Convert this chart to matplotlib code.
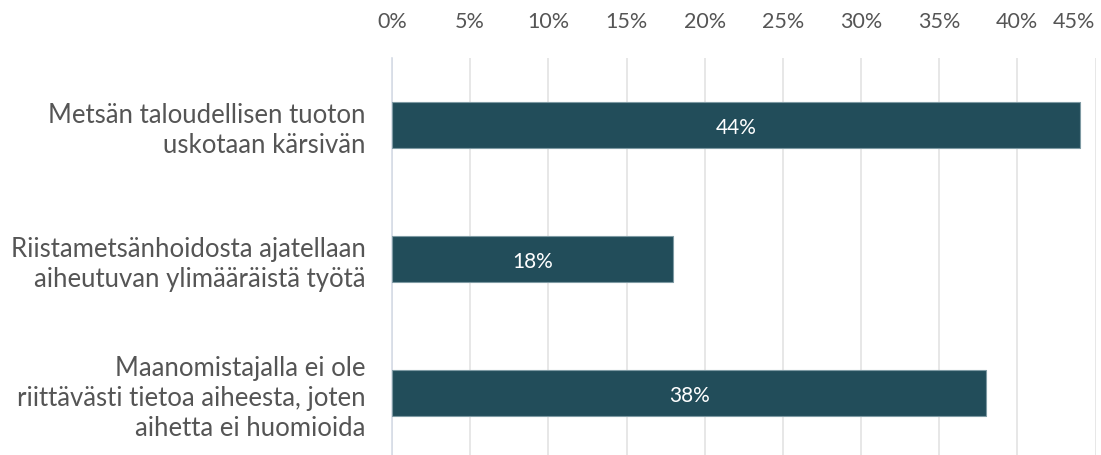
import matplotlib.pyplot as plt

# Data
categories = [
    'Metsän taloudellisen tuoton\nuskotaan kärsivän',
    'Riistametsänhoidosta ajatellaan\naiheutuvan ylimääräistä työtä',
    'Maanomistajalla ei ole\nriittävästi tietoa aiheesta, joten\naihetta ei huomioida',
]
values = [44, 18, 38]
ticks = [0, 5, 10, 15, 20, 25, 30, 35, 40, 45]
tick_labels = [f'{t}%' for t in ticks]

plt.rcParams['font.family'] = ['Lato', 'DejaVu Sans']
text_color = '#555555'
bar_color = '#224D5A'

fig = plt.figure(figsize=(11.01, 4.55), dpi=100)
ax = fig.add_axes([392 / 1101, -0.011, (1095.5 - 392) / 1101, 0.8835])

y = list(range(len(categories)))
bars = ax.barh(y, values, height=0.34, color=bar_color, edgecolor='#7E9AA3', linewidth=0.8, zorder=3)
ax.set_ylim(len(categories) - 0.5, -0.5)
ax.set_xlim(0, 45)

for b, v in zip(bars, values):
    ax.text(b.get_width() / 2, b.get_y() + b.get_height() / 2 + 0.02, f'{v}%',
            ha='center', va='center', color='white', fontsize=15, zorder=4)

ax.set_yticks(y)
ax.set_yticklabels(categories, fontsize=18.5, color=text_color, linespacing=1.25)
ax.tick_params(axis='y', length=0, pad=19)

ax.xaxis.tick_top()
ax.set_xticks(ticks)
ax.set_xticklabels(tick_labels, fontsize=15.5, color=text_color)
ax.tick_params(axis='x', length=0, pad=19)
# last label would stick out of the figure, pull it inside
last = ax.get_xticklabels()[-1]
last.set_horizontalalignment('right')

ax.grid(axis='x', color='#E3E3E3', linewidth=1.2, zorder=0)
for s in ['top', 'right', 'bottom']:
    ax.spines[s].set_visible(False)
ax.spines['left'].set_color('#D5DCE6')
ax.spines['left'].set_linewidth(1.2)

fig.savefig('out.png', dpi=100)
